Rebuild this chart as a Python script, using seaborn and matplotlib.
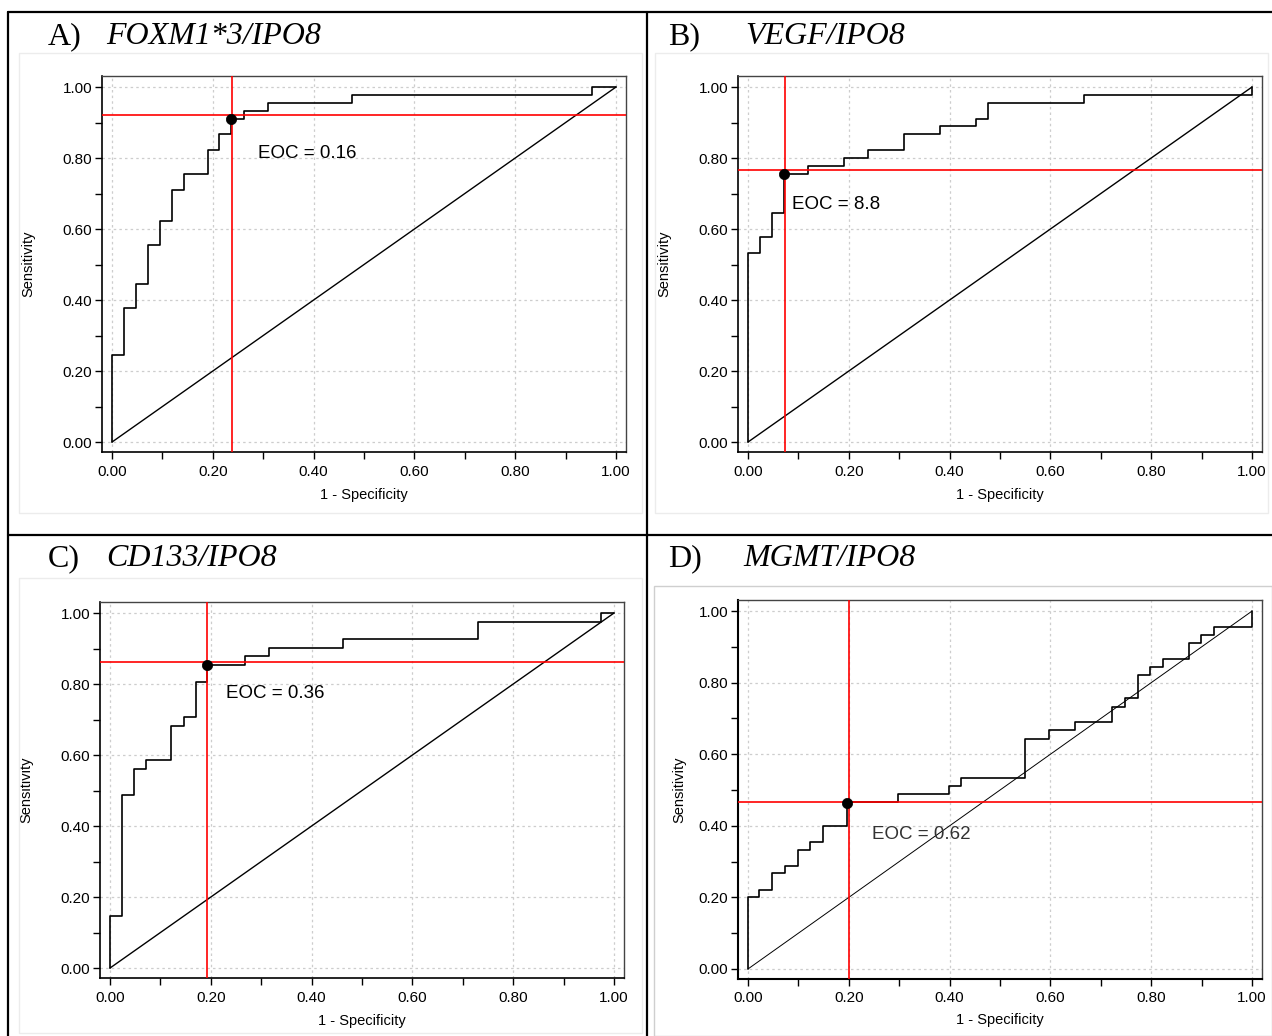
import matplotlib
matplotlib.use("Agg")
import matplotlib.pyplot as plt
import seaborn as sns
import pandas as pd
from matplotlib.lines import Line2D
from matplotlib.patches import Rectangle

# ---------------- data ----------------
ticks = [0.0, 0.2, 0.4, 0.6, 0.8, 1.0]
tick_labels = ["0.00", "0.20", "0.40", "0.60", "0.80", "1.00"]
diag = [0.0, 1.0]

a_fpr = [0.0, 0.023, 0.047, 0.071, 0.095, 0.119, 0.142, 0.190, 0.213, 0.237, 0.262, 0.309, 0.476, 0.952, 1.0]
a_tpr = [0.0, 0.244, 0.378, 0.444, 0.556, 0.622, 0.711, 0.756, 0.822, 0.867, 0.911, 0.933, 0.956, 0.978, 1.0]
a_cut = (0.238, 0.920)
a_dot = (0.237, 0.911)
a_eoc = "EOC = 0.16"

b_fpr = [0.0, 0.024, 0.047, 0.071, 0.120, 0.190, 0.238, 0.309, 0.381, 0.452, 0.476, 0.666, 1.0, 1.0]
b_tpr = [0.0, 0.533, 0.578, 0.644, 0.756, 0.778, 0.800, 0.822, 0.867, 0.889, 0.911, 0.956, 0.978, 1.0]
b_cut = (0.073, 0.766)
b_dot = (0.071, 0.756)
b_eoc = "EOC = 8.8"

c_fpr = [0.0, 0.024, 0.048, 0.072, 0.121, 0.146, 0.170, 0.193, 0.268, 0.316, 0.463, 0.731, 0.975, 1.0]
c_tpr = [0.0, 0.146, 0.488, 0.561, 0.585, 0.683, 0.707, 0.805, 0.854, 0.878, 0.902, 0.927, 0.976, 1.0]
c_cut = (0.193, 0.861)
c_dot = (0.193, 0.854)
c_eoc = "EOC = 0.36"

d_fpr = [0.0, 0.022, 0.047, 0.073, 0.099, 0.123, 0.148, 0.197, 0.298, 0.399, 0.423, 0.549, 0.597,
         0.648, 0.723, 0.748, 0.774, 0.798, 0.824, 0.875, 0.899, 0.924, 1.0, 1.0]
d_tpr = [0.0, 0.200, 0.222, 0.267, 0.289, 0.333, 0.356, 0.400, 0.467, 0.489, 0.511, 0.533, 0.644,
         0.667, 0.689, 0.733, 0.756, 0.822, 0.844, 0.867, 0.911, 0.933, 0.956, 1.0]
d_cut = (0.200, 0.467)
d_dot = (0.197, 0.465)
d_eoc = "EOC = 0.62"

panel_letters = ["A)", "B)", "C)", "D)"]
panel_genes = ["FOXM1*3/IPO8", "VEGF/IPO8", "CD133/IPO8", "MGMT/IPO8"]

# ---------------- layout ----------------
W, H = 1272, 1036
sns.set_style("white")
plt.rcParams["font.family"] = ["Liberation Sans", "DejaVu Sans"]
plt.rcParams["text.color"] = "black"
plt.rcParams["axes.labelcolor"] = "black"
plt.rcParams["xtick.color"] = "black"
plt.rcParams["ytick.color"] = "black"

fig = plt.figure(figsize=(W / 100, H / 100), dpi=100)
fig.patch.set_facecolor("white")


def fx(x):
    return x / W


def fy(y):
    return 1 - y / H


# faint image boxes
boxes = [((19, 53, 642, 513), "#ececec"), ((655, 53, 1268, 513), "#ececec"),
         ((19, 578, 642, 1033), "#ececec"), ((654, 586, 1272, 1036), "#cfcfcf")]
for (l, t, r, b), col in boxes:
    fig.add_artist(Rectangle((fx(l), fy(b)), fx(r - l), (b - t) / H, fill=False,
                             edgecolor=col, lw=1.0, transform=fig.transFigure))

# frame lines of the composite figure
for xs, ys in [((8, W), (12, 12)), ((8, 8), (12, H)), ((647, 647), (12, H)), ((8, W), (535, 535))]:
    fig.add_artist(Line2D([fx(xs[0]), fx(xs[1])], [fy(ys[0]), fy(ys[1])], color="black",
                          lw=1.6, transform=fig.transFigure))

frames = [(102, 76, 626, 452), (738, 76, 1262, 452), (100, 602, 624, 978), (738, 600, 1262, 979)]
title_pos = [(48, 106, 44), (668, 745, 44), (48, 106, 566), (668, 743, 566)]
ylab_x = [-0.141, -0.141, -0.141, -0.111]
xlab_y = [-0.114, -0.114, -0.114, -0.108]

data = [
    (a_fpr, a_tpr, a_cut, a_dot, a_eoc, (0.29, 0.814)),
    (b_fpr, b_tpr, b_cut, b_dot, b_eoc, (0.087, 0.669)),
    (c_fpr, c_tpr, c_cut, c_dot, c_eoc, (0.23, 0.772)),
    (d_fpr, d_tpr, d_cut, d_dot, d_eoc, (0.247, 0.377)),
]

for i, ((l, t, r, b), (fpr, tpr, cut, dot, eoc, tpos)) in enumerate(zip(frames, data)):
    ax = fig.add_axes([fx(l), fy(b), (r - l) / W, (b - t) / H])
    ax.set_facecolor("white")
    ax.set_xlim(-0.0198, 1.0198)
    ax.set_ylim(-0.028, 1.031)

    ax.set_xticks(ticks)
    ax.set_xticklabels(tick_labels)
    ax.set_yticks(ticks)
    ax.set_yticklabels(tick_labels)
    ax.set_xticks([0.1, 0.3, 0.5, 0.7, 0.9], minor=True)
    ax.set_yticks([0.1, 0.3, 0.5, 0.7, 0.9], minor=True)
    ax.tick_params(which="both", direction="out", length=5, width=1.0, color="black",
                   bottom=True, left=True, top=False, right=False)
    ax.tick_params(axis="x", which="major", labelsize=11, pad=4, labelcolor="black")
    ax.tick_params(axis="y", which="major", labelsize=11, pad=2, labelcolor="black")
    ax.grid(True, which="major", color="#cdcdcd", linestyle=(0, (2, 2.5)), lw=0.9)
    ax.set_axisbelow(True)

    for side in ["left", "bottom"]:
        ax.spines[side].set_color("black")
        ax.spines[side].set_linewidth(1.5 if i == 3 else 1.2)
    for side in ["top", "right"]:
        ax.spines[side].set_color("#444444")
        ax.spines[side].set_linewidth(1.0)

    df = pd.DataFrame({"fpr": fpr, "tpr": tpr})
    sns.lineplot(data=df, x="fpr", y="tpr", ax=ax, color="black", lw=1.2,
                 drawstyle="steps-pre", estimator=None, sort=False, zorder=4)
    sns.lineplot(x=diag, y=diag, ax=ax, color="black", lw=0.7 if i == 3 else 1.0,
                 estimator=None, sort=False, zorder=3)
    ax.axvline(cut[0], color="#ff0000", lw=1.2, zorder=5)
    ax.axhline(cut[1], color="#ff0000", lw=1.2, zorder=5)
    sns.scatterplot(x=[dot[0]], y=[dot[1]], ax=ax, color="black", s=55, zorder=6,
                    edgecolor="black", linewidth=0.5)
    ax.text(tpos[0], tpos[1], eoc, fontsize=13.5, ha="left", va="center",
            color="#333333" if i == 3 else "black", zorder=7)

    ax.set_xlabel("1 - Specificity", fontsize=10.5, color="black")
    ax.set_ylabel("Sensitivity", fontsize=10.5, color="black")
    ax.xaxis.set_label_coords(0.5, xlab_y[i])
    ax.yaxis.set_label_coords(ylab_x[i], 0.5)
    ax.xaxis.label.set_va("center")
    ax.yaxis.label.set_va("center")

    lx, gx, by = title_pos[i]
    fig.text(fx(lx), fy(by), panel_letters[i], fontfamily="Liberation Serif", fontsize=23,
             va="baseline", ha="left", color="black")
    fig.text(fx(gx), fy(by), panel_genes[i], fontfamily="Liberation Serif", fontsize=23,
             style="italic", va="baseline", ha="left", color="black")

fig.savefig("out.png", dpi=100, facecolor="white")
